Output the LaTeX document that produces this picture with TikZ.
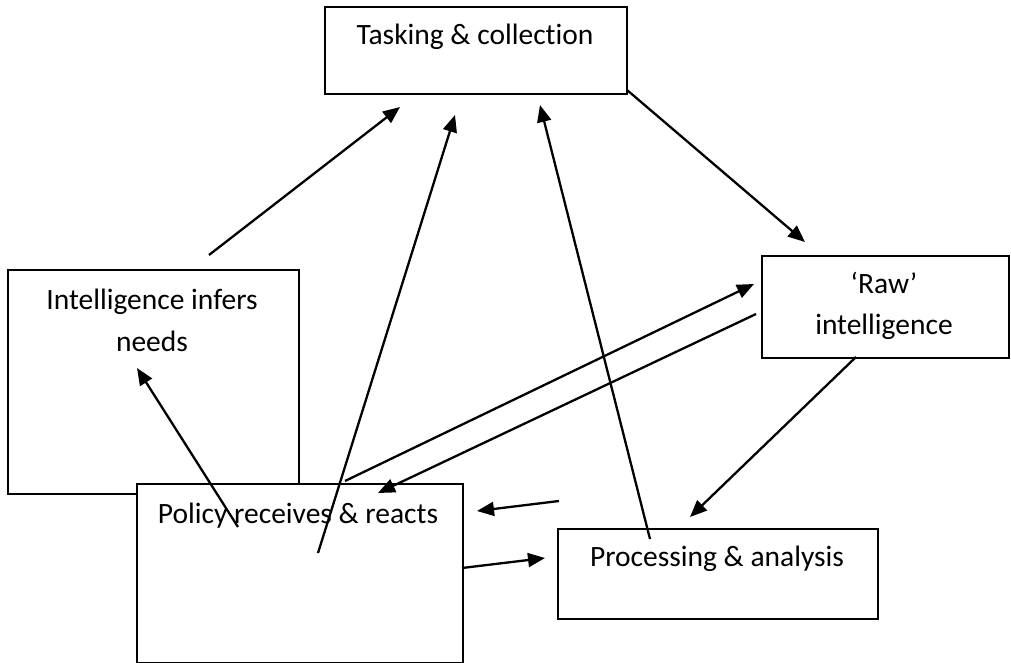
\documentclass[tikz,border=0pt]{standalone}
\usepackage{fontspec}
\setmainfont{Carlito}[Ligatures=NoCommon]
\usetikzlibrary{arrows.meta}
\begin{document}
\begin{tikzpicture}[x=1pt,y=-1pt,
  box/.style={draw=black, line width=2pt, fill=white, rectangle, inner sep=0pt, anchor=north west},
  lbl/.style={font=\fontsize{29.5}{42}\selectfont, inner sep=0pt, align=center, anchor=base},
  conn/.style={line width=2.3pt, -{Triangle[length=17pt,width=14pt]}}]
\useasboundingbox (0,0) rectangle (1011,663);
% boxes
\node[box, minimum width=302pt, minimum height=87pt] (task) at (324,6) {};
\node[box, minimum width=291pt, minimum height=224pt] (infer) at (7,269) {};
\node[box, minimum width=326pt, minimum height=179pt] (policy) at (136,483) {};
\node[box, minimum width=247pt, minimum height=102pt] (raw) at (761,255) {};
\node[box, minimum width=320pt, minimum height=90pt] (proc) at (557,528) {};
% labels
\node[lbl] (taskT) at (475,45) {Tasking \& collection};
\node[lbl] (inferT) at (152,309) {Intelligence infers};
\node[lbl] (inferT2) at (152,351) {needs};
\node[lbl] (policyT) at (298,523) {Policy receives \& reacts};
\node[lbl] (rawT) at (884,293) {‘Raw’};
\node[lbl] (rawT2) at (884,334) {intelligence};
\node[lbl] (procT) at (717,566) {Processing \& analysis};
% connector ends
\coordinate (a1s) at (209,255); \coordinate (a1e) at (400,107);
\coordinate (a2s) at (318,553); \coordinate (a2e) at (455,115);
\coordinate (a3s) at (650,539); \coordinate (a3e) at (540,105);
\coordinate (a4s) at (627,90);  \coordinate (a4e) at (805,242);
\coordinate (a5s) at (345,481); \coordinate (a5e) at (754,284);
\coordinate (a6s) at (756,314); \coordinate (a6e) at (378,493);
\coordinate (a7s) at (856,357); \coordinate (a7e) at (690,517);
\coordinate (a8s) at (559,501); \coordinate (a8e) at (477,511);
\coordinate (a9s) at (462,568); \coordinate (a9e) at (545,558);
\coordinate (a10s) at (238,527); \coordinate (a10e) at (137,368);
% connectors
\draw[conn] (a1s) -- (a1e);
\draw[conn] (a2s) -- (a2e);
\draw[conn] (a3s) -- (a3e);
\draw[conn] (a4s) -- (a4e);
\draw[conn] (a5s) -- (a5e);
\draw[conn] (a6s) -- (a6e);
\draw[conn] (a7s) -- (a7e);
\draw[conn] (a8s) -- (a8e);
\draw[conn] (a9s) -- (a9e);
\draw[conn] (a10s) -- (a10e);
\end{tikzpicture}
\end{document}
